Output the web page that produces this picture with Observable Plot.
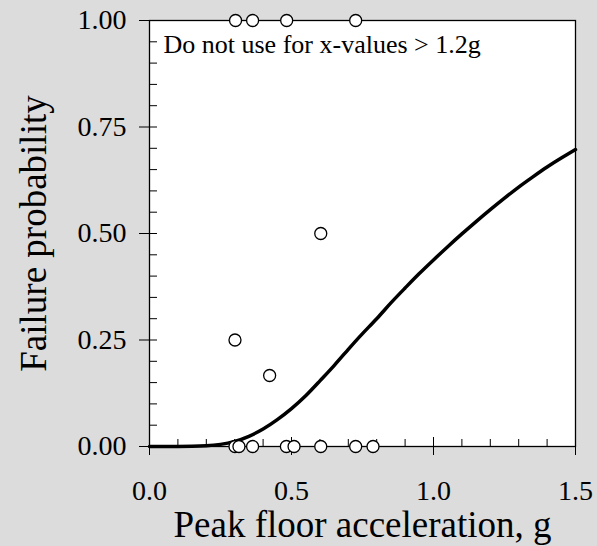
<!DOCTYPE html>
<html><head><meta charset="utf-8">
<script src="https://cdn.jsdelivr.net/npm/d3@7"></script>
<script src="https://cdn.jsdelivr.net/npm/@observablehq/plot@0.6"></script>
<style>
html,body{margin:0;padding:0;background:#dcdcdc;}
svg{display:block;}
</style></head><body><div id="chart"></div>
<script>
// Observed failure fractions
const obsX = [0.303, 0.363, 0.483, 0.726, 0.603, 0.301, 0.423, 0.301, 0.315, 0.363, 0.482, 0.509, 0.603, 0.726, 0.787];
const obsY = [1, 1, 1, 1, 0.5, 0.25, 0.1667, 0, 0, 0, 0, 0, 0, 0, 0];

// Fitted fragility curve
const curveX = [0, 0.05, 0.1, 0.15, 0.2, 0.25, 0.3, 0.35, 0.4, 0.45, 0.5, 0.55, 0.6, 0.65, 0.7, 0.75, 0.8, 0.85, 0.9, 0.95, 1.0, 1.05, 1.1, 1.15, 1.2, 1.25, 1.3, 1.35, 1.4, 1.45, 1.5];
const curveY = [0, 0, 0, 0.0003, 0.0016, 0.005, 0.012, 0.024, 0.041, 0.063, 0.089, 0.119, 0.154, 0.19, 0.228, 0.265, 0.30, 0.337, 0.372, 0.406, 0.438, 0.469, 0.499, 0.528, 0.556, 0.583, 0.609, 0.633, 0.656, 0.677, 0.697];

const xMajorTicks = [0, 0.5, 1.0, 1.5];
const xMinorTicks = [0.1, 0.2, 0.3, 0.4, 0.6, 0.7, 0.8, 0.9, 1.1, 1.2, 1.3, 1.4];
const yMajorTicks = [0, 0.25, 0.5, 0.75, 1];
const yMinorTicks = [0.05, 0.1, 0.15, 0.2, 0.3, 0.35, 0.4, 0.45, 0.55, 0.6, 0.65, 0.7, 0.8, 0.85, 0.9, 0.95];

const xTitle = "Peak floor acceleration, g";
const yTitle = "Failure probability";
const note = "Do not use for x-values > 1.2g";

const obs = obsX.map((x, i) => ({x, y: obsY[i]}));
const curve = curveX.map((x, i) => ({x, y: curveY[i]}));

const chart = Plot.plot({
  width: 597, height: 546,
  marginLeft: 149, marginRight: 22, marginTop: 20, marginBottom: 100,
  style: {background: "#dcdcdc", fontFamily: "'Liberation Serif', 'Times New Roman', serif", color: "black"},
  x: {domain: [0, 1.5], label: null},
  y: {domain: [0, 1], label: null},
  marks: [
    Plot.frame({fill: "white"}),
    Plot.axisX({ticks: xMinorTicks, tickSize: -7, text: null, label: null}),
    Plot.axisX({ticks: xMajorTicks, tickSize: -9, text: null, label: null}),
    Plot.axisX({ticks: xMajorTicks, tickSize: 9, tickPadding: 25, tickFormat: d3.format(".1f"), fontSize: 28, label: null}),
    Plot.axisY({ticks: yMinorTicks, tickSize: -8, text: null, label: null}),
    Plot.axisY({ticks: yMajorTicks, tickSize: -8, text: null, label: null}),
    Plot.axisY({ticks: yMajorTicks, tickSize: 10, tickPadding: 13, tickFormat: d3.format(".2f"), fontSize: 28, label: null}),
    Plot.line(curve, {x: "x", y: "y", stroke: "black", strokeWidth: 3.5, curve: "natural"}),
    Plot.frame({stroke: "black", strokeWidth: 1.3}),
    Plot.dot(obs, {x: "x", y: "y", r: 6, fill: "white", stroke: "black", strokeWidth: 1.3}),
    Plot.text([note], {text: d => d, frameAnchor: "top-left", dx: 14, dy: 32, textAnchor: "start", lineAnchor: "bottom", fontSize: 26}),
    Plot.text([xTitle], {text: d => d, frameAnchor: "bottom", dy: 90, textAnchor: "middle", lineAnchor: "bottom", fontSize: 37}),
    Plot.text([yTitle], {text: d => d, frameAnchor: "left", dx: -104, rotate: -90, textAnchor: "middle", lineAnchor: "bottom", fontSize: 37})
  ]
});
document.getElementById("chart").appendChild(chart);
</script>
</body></html>
